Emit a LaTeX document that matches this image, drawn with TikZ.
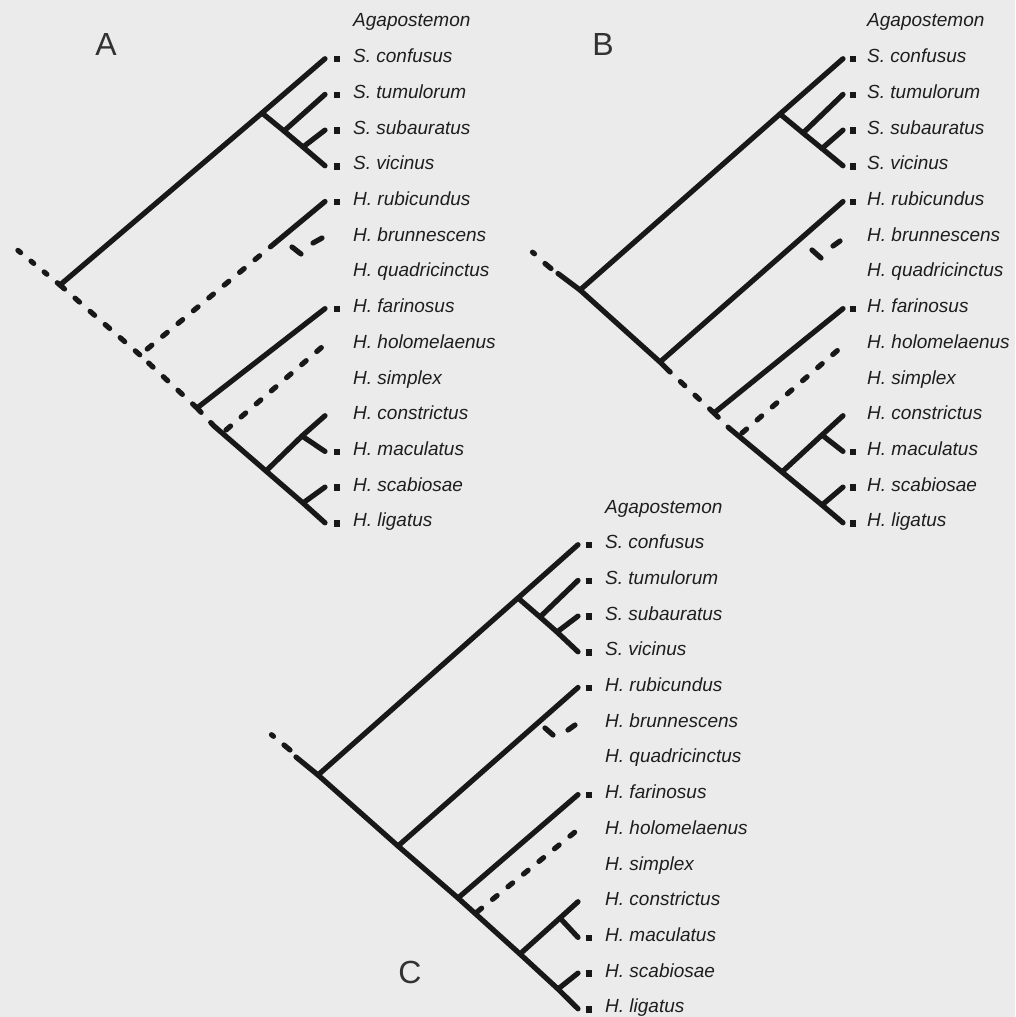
\documentclass[tikz,border=0pt]{standalone}
\usepackage{fontspec}
\setmainfont{Liberation Sans}
\definecolor{bgc}{RGB}{235,235,235}
\definecolor{linec}{RGB}{24,24,24}
\definecolor{textc}{RGB}{30,30,30}
\definecolor{letc}{RGB}{50,50,50}
\begin{document}
\begin{tikzpicture}[x=1pt,y=-1pt,
  br/.style={line width=5.2pt, line cap=round, line join=round, draw=linec},
  dsh/.style={br, dash pattern=on 6pt off 14pt},
  stemdots/.style={br, dash pattern=on 3.5pt off 13.5pt},
  sq/.style={fill=linec, minimum size=6.5pt, inner sep=0pt, draw=none},
  lab/.style={anchor=base west, inner sep=0pt, font=\fontsize{19}{19}\selectfont\itshape, text=textc},
  big/.style={inner sep=0pt, font=\fontsize{32}{32}\selectfont, text=letc}]
\fill[bgc] (0,0) rectangle (1015,1017);
\useasboundingbox (0,0) rectangle (1015,1017);

% labels, tips and squares
\foreach \tree/\tx/\sqx/\lx/\top in {A/353/337/325/20, B/867/853/843/20, C/605/589/578/506}{
  \foreach \t [count=\i from 0] in {Agapostemon,S. confusus,S. tumulorum,S. subauratus,S. vicinus,H. rubicundus,H. brunnescens,H. quadricinctus,H. farinosus,H. holomelaenus,H. simplex,H. constrictus,H. maculatus,H. scabiosae,H. ligatus}{
    \node[lab] (\tree-lab\i) at (\tx,{\top+35.7*\i+7}) {\t};
    \coordinate (\tree-t\i) at (\lx,{\top+35.7*\i+3});
  }
  \foreach \i in {1,2,3,4,5,8,12,13,14}
    \node[sq] (\tree-sq\i) at (\sqx,{\top+35.7*\i+3.5}) {};
}

\node[big] (LA) at (106,44) {A};
\node[big] (LB) at (603,44) {B};
\node[big] (LC) at (410,972) {C};

% ---------------- Tree A ----------------
\coordinate (AStem) at (15,248);
\coordinate (AR) at (60,285);
\coordinate (AS) at (262,113);
\coordinate (AS2) at (284,131);
\coordinate (AS3) at (303,147);
\coordinate (AH1) at (140,355);
\coordinate (ARb) at (275,243);
\coordinate (AH2) at (197,408);
\coordinate (AH3) at (214,426);
\coordinate (AH4) at (266,471);
\coordinate (AH5) at (302,436);
\coordinate (AH6) at (303,503);
\coordinate (AHo0) at (226,430);
\coordinate (AHo1) at (322,347);
\coordinate (Abr1) at (292,247);
\coordinate (Abr2) at (301,254);
\coordinate (Abr3) at (313,243);
\coordinate (Abr4) at (322,238);

\draw[stemdots] (AR) -- (AStem);
\draw[br] (AR) -- (AS) -- (A-t1);
\draw[br] (AS) -- (AS2) -- (AS3) -- (A-t4);
\draw[br] (AS2) -- (A-t2);
\draw[br] (AS3) -- (A-t3);
\draw[dsh] (AR) -- (AH1);
\draw[dsh] (AH2) -- (AH1);
\draw[dsh] (ARb) -- (AH1);
\draw[br] (ARb) -- (A-t5);
\draw[br] (Abr1) -- (Abr2);
\draw[br] (Abr3) -- (Abr4);
\draw[br] (AH2) -- (A-t8);
\draw[dsh] (AH2) -- (AH3);
\draw[br] (AH3) -- (AH4) -- (AH6) -- (A-t14);
\draw[br] (AH4) -- (AH5) -- (A-t11);
\draw[br] (AH5) -- (A-t12);
\draw[br] (AH6) -- (A-t13);
\draw[dsh] (AHo0) -- (AHo1);

% ---------------- Tree B ----------------
\coordinate (BSd0) at (532.5,252.2);
\coordinate (BSd1) at (534.5,253.8);
\coordinate (BSd2) at (545,263.5);
\coordinate (BSd3) at (551,268.5);
\coordinate (BSd4) at (558,273.5);
\coordinate (BR) at (580,290);
\coordinate (BS) at (780,114);
\coordinate (BS2) at (803,133);
\coordinate (BS3) at (822,148.5);
\coordinate (BH1) at (660,362);
\coordinate (BH1e) at (668,370);
\coordinate (BH2) at (714,413);
\coordinate (BH3) at (729,428);
\coordinate (BH4) at (782,472);
\coordinate (BH5) at (822,435);
\coordinate (BH6) at (822,505);
\coordinate (BHo0) at (742,433);
\coordinate (BHo1) at (838,350);
\coordinate (Bbr1) at (812,250);
\coordinate (Bbr2) at (821,258);
\coordinate (Bbr3) at (833,246);
\coordinate (Bbr4) at (840,241);

\draw[br] (BSd0) -- (BSd1);
\draw[br] (BSd2) -- (BSd3);
\draw[br] (BSd4) -- (BR);
\draw[br] (BR) -- (BS) -- (B-t1);
\draw[br] (BS) -- (BS2) -- (BS3) -- (B-t4);
\draw[br] (BS2) -- (B-t2);
\draw[br] (BS3) -- (B-t3);
\draw[br] (BR) -- (BH1) -- (BH1e);
\draw[br] (BH1) -- (B-t5);
\draw[br] (Bbr1) -- (Bbr2);
\draw[br] (Bbr3) -- (Bbr4);
\draw[dsh] (BH2) -- (BH1e);
\draw[br] (BH2) -- (B-t8);
\draw[dsh] (BH2) -- (BH3);
\draw[br] (BH3) -- (BH4) -- (BH6) -- (B-t14);
\draw[br] (BH4) -- (BH5) -- (B-t11);
\draw[br] (BH5) -- (B-t12);
\draw[br] (BH6) -- (B-t13);
\draw[dsh] (BHo0) -- (BHo1);

% ---------------- Tree C ----------------
\coordinate (CSd0) at (271.5,734.7);
\coordinate (CSd1) at (273.5,736.3);
\coordinate (CSd2) at (284,745);
\coordinate (CSd3) at (290,750);
\coordinate (CSd4) at (296,757);
\coordinate (CR) at (318,775);
\coordinate (CS) at (518,598);
\coordinate (CS2) at (540,617);
\coordinate (CS3) at (557,632);
\coordinate (CH1) at (398,846);
\coordinate (CH2) at (458,898);
\coordinate (CH4) at (520,954);
\coordinate (CH5) at (560,918);
\coordinate (CH6) at (558,989);
\coordinate (CHo0) at (477,912);
\coordinate (CHo1) at (575,832);
\coordinate (Cbr1) at (545,728);
\coordinate (Cbr2) at (553,735);
\coordinate (Cbr3) at (568,730);
\coordinate (Cbr4) at (575,725);

\draw[br] (CSd0) -- (CSd1);
\draw[br] (CSd2) -- (CSd3);
\draw[br] (CSd4) -- (CR);
\draw[br] (CR) -- (CS) -- (C-t1);
\draw[br] (CS) -- (CS2) -- (CS3) -- (C-t4);
\draw[br] (CS2) -- (C-t2);
\draw[br] (CS3) -- (C-t3);
\draw[br] (CR) -- (CH1) -- (CH2) -- (CH4) -- (CH6) -- (C-t14);
\draw[br] (CH1) -- (C-t5);
\draw[br] (Cbr1) -- (Cbr2);
\draw[br] (Cbr3) -- (Cbr4);
\draw[br] (CH2) -- (C-t8);
\draw[br] (CH4) -- (CH5) -- (C-t11);
\draw[br] (CH5) -- (C-t12);
\draw[br] (CH6) -- (C-t13);
\draw[dsh] (CHo0) -- (CHo1);
\end{tikzpicture}
\end{document}
